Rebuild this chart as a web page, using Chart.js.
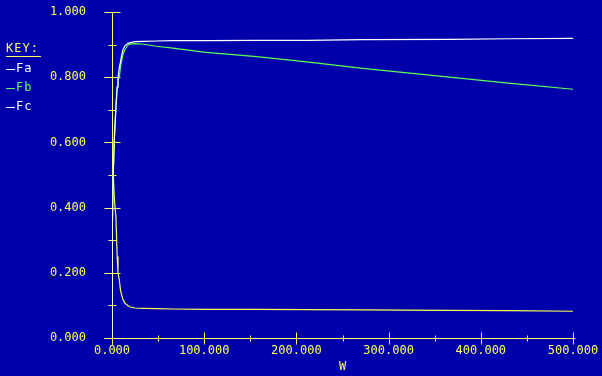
<!DOCTYPE html>
<html>
<head>
<meta charset="utf-8">
<title>F vs W</title>
<script src="https://cdn.jsdelivr.net/npm/chart.js@4"></script>
<style>
    html, body { margin: 0; padding: 0; background: #0000aa; }
    #wrap { width: 602px; height: 376px; }
</style>
</head>
<body>
<div id="wrap"><canvas id="chart" width="602" height="376"></canvas></div>
<script>
// values
const wValues = [0, 0.3, 1.2, 2.7, 4.3, 5.6, 6.5, 8, 9.2, 10.5, 12, 14, 17, 20, 25, 35, 48, 66, 102, 157, 211, 272, 366, 430, 500];
const faValues = [0.0, 0.33, 0.49, 0.62, 0.71, 0.77, 0.8, 0.83, 0.847, 0.868, 0.885, 0.896, 0.903, 0.906, 0.909, 0.91, 0.911, 0.912, 0.912, 0.913, 0.913, 0.915, 0.916, 0.918, 0.919];
const fbValues = [0.0, 0.33, 0.49, 0.62, 0.71, 0.77, 0.79, 0.8, 0.83, 0.85, 0.87, 0.885, 0.897, 0.902, 0.903, 0.901, 0.895, 0.889, 0.876, 0.863, 0.847, 0.827, 0.8, 0.782, 0.763];
const fcValues = [1.0, 0.67, 0.51, 0.42, 0.37, 0.25, 0.2, 0.177, 0.147, 0.132, 0.117, 0.107, 0.1, 0.095, 0.092, 0.091, 0.09, 0.089, 0.088, 0.088, 0.087, 0.086, 0.085, 0.084, 0.082];

const seriesNames = ["Fa", "Fb", "Fc"];
const xTicks = [0, 100, 200, 300, 400, 500];
const yTicks = [0, 0.2, 0.4, 0.6, 0.8, 1.0];
const xTitle = "W";
const keyTitle = "KEY:";

const YELLOW = "#ffff55";
const WHITE = "#ffffff";
const GREEN = "#55ff55";
const FONT = { family: "'DejaVu Sans Mono', monospace", size: 12 };

const toPoints = (vals) => vals.map((v, i) => ({ x: wValues[i], y: v }));
const midpoints = (ticks) => ticks.slice(1).map((v, i) => (v + ticks[i]) / 2);

// axes with ticks crossing the line, plus the KEY block on the left
const axesPlugin = {
    id: "axes",
    beforeDatasetsDraw(chart) {
        const ctx = chart.ctx;
        const px = (v) => Math.round(chart.scales.x.getPixelForValue(v)) + 0.5;
        const py = (v) => Math.round(chart.scales.y.getPixelForValue(v)) + 0.5;
        const x0 = px(xTicks[0]);
        const y0 = py(yTicks[0]);
        ctx.save();
        ctx.strokeStyle = YELLOW;
        ctx.lineWidth = 1;
        ctx.beginPath();
        ctx.moveTo(x0, py(yTicks[yTicks.length - 1]));
        ctx.lineTo(x0, y0 + 6);
        ctx.moveTo(x0 - 8, y0);
        ctx.lineTo(px(xTicks[xTicks.length - 1]) + 2, y0);
        yTicks.forEach((v) => {
            ctx.moveTo(x0 - 8, py(v));
            ctx.lineTo(x0 + 8, py(v));
        });
        midpoints(yTicks).forEach((v) => {
            ctx.moveTo(x0 - 4, py(v));
            ctx.lineTo(x0 + 4, py(v));
        });
        xTicks.forEach((v) => {
            ctx.moveTo(px(v), y0 - 6);
            ctx.lineTo(px(v), y0 + 6);
        });
        midpoints(xTicks).forEach((v) => {
            ctx.moveTo(px(v), y0 - 3);
            ctx.lineTo(px(v), y0 + 3);
        });
        ctx.stroke();
        ctx.restore();
    },
    afterDraw(chart) {
        const ctx = chart.ctx;
        ctx.save();
        ctx.font = "12px 'DejaVu Sans Mono', monospace";
        ctx.letterSpacing = "1px";
        ctx.textBaseline = "middle";
        ctx.textAlign = "left";
        ctx.fillStyle = YELLOW;
        ctx.fillText(keyTitle, 6, 49);
        ctx.fillRect(6, 56, 35, 1);
        chart.data.datasets.forEach((ds, i) => {
            const y = 69 + i * 19;
            ctx.fillStyle = ds.keyColor;
            ctx.fillRect(6, y, 9, 1);
            ctx.fillText(ds.label, 16, y);
        });
        ctx.restore();
    },
};

new Chart(document.getElementById("chart"), {
    type: "line",
    data: {
        datasets: [
            { label: seriesNames[0], data: toPoints(faValues), borderColor: WHITE, keyColor: WHITE },
            { label: seriesNames[1], data: toPoints(fbValues), borderColor: GREEN, keyColor: GREEN },
            { label: seriesNames[2], data: toPoints(fcValues), borderColor: YELLOW, keyColor: WHITE },
        ],
    },
    options: {
        responsive: false,
        animation: false,
        devicePixelRatio: 1,
        layout: { padding: { top: 12, right: 29, left: 0, bottom: 0 } },
        elements: {
            point: { radius: 0 },
            line: { borderWidth: 1.2, tension: 0 },
        },
        plugins: {
            legend: { display: false },
            tooltip: { enabled: false },
        },
        scales: {
            x: {
                type: "linear",
                min: xTicks[0],
                max: xTicks[xTicks.length - 1],
                afterFit: (s) => {
                    s.height = 38;
                    s.paddingLeft = 0;
                    s.paddingRight = 0;
                },
                afterBuildTicks: (s) => { s.ticks = xTicks.map((v) => ({ value: v })); },
                grid: { display: false, drawTicks: false },
                border: { display: false },
                ticks: {
                    color: YELLOW,
                    font: FONT,
                    padding: 6,
                    maxRotation: 0,
                    autoSkip: false,
                    callback: (v) => Number(v).toFixed(3),
                },
                title: {
                    display: true,
                    text: xTitle,
                    color: YELLOW,
                    font: FONT,
                    padding: { top: 0, bottom: 2 },
                },
            },
            y: {
                min: yTicks[0],
                max: yTicks[yTicks.length - 1],
                afterFit: (s) => {
                    s.width = 112;
                    s.paddingTop = 0;
                    s.paddingBottom = 0;
                },
                afterBuildTicks: (s) => { s.ticks = yTicks.map((v) => ({ value: v })); },
                grid: { display: false, drawTicks: false },
                border: { display: false },
                ticks: {
                    color: YELLOW,
                    font: FONT,
                    padding: 26,
                    callback: (v) => Number(v).toFixed(3),
                },
            },
        },
    },
    plugins: [axesPlugin],
});
</script>
</body>
</html>
